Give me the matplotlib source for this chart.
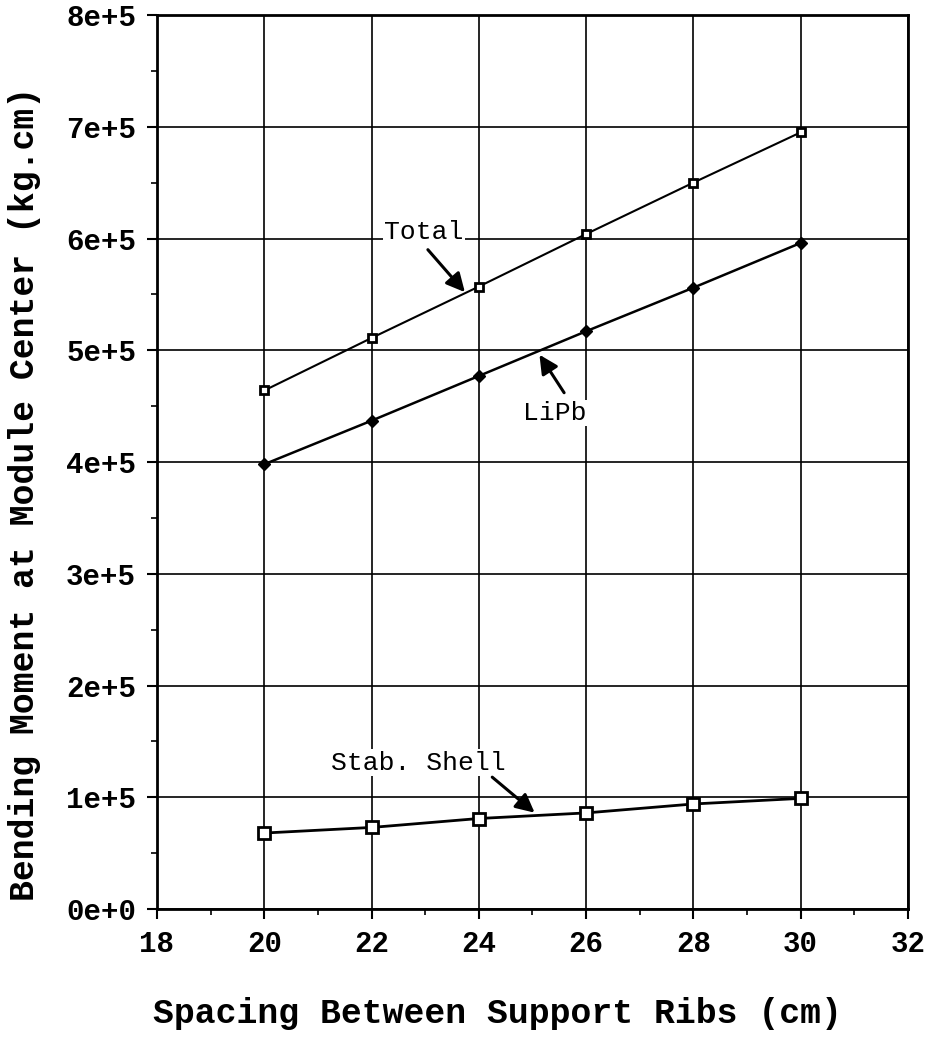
import matplotlib
matplotlib.use("Agg")
import matplotlib.pyplot as plt
from matplotlib.ticker import MultipleLocator

spacing = [20, 22, 24, 26, 28, 30]
total = [4.64e5, 5.11e5, 5.57e5, 6.04e5, 6.50e5, 6.95e5]
lipb = [3.98e5, 4.37e5, 4.77e5, 5.17e5, 5.56e5, 5.96e5]
stab_shell = [0.68e5, 0.73e5, 0.81e5, 0.86e5, 0.94e5, 0.99e5]

x_ticks = [18, 20, 22, 24, 26, 28, 30, 32]
y_ticks = [0, 1e5, 2e5, 3e5, 4e5, 5e5, 6e5, 7e5, 8e5]
y_tick_labels = ["0e+0", "1e+5", "2e+5", "3e+5", "4e+5", "5e+5", "6e+5", "7e+5", "8e+5"]

FONT = "Liberation Mono"

fig = plt.figure(figsize=(9.3, 10.57), dpi=100)
ax = fig.add_axes([0.1688, 0.14, 0.8075, 0.8458])

ax.plot(spacing, total, color="black", lw=1.5, marker="s", ms=6,
        mfc="white", mec="black", mew=2, zorder=3)
ax.plot(spacing, lipb, color="black", lw=1.8, marker="D", ms=6,
        mfc="black", mec="black", zorder=3)
ax.plot(spacing, stab_shell, color="black", lw=2, marker="s", ms=8,
        mfc="white", mec="black", mew=2, zorder=3)

ax.set_xlim(18, 32)
ax.set_ylim(0, 8e5)
ax.set_xticks(x_ticks)
ax.set_yticks(y_ticks)
ax.set_yticklabels(y_tick_labels)
ax.xaxis.set_minor_locator(MultipleLocator(1))
ax.yaxis.set_minor_locator(MultipleLocator(0.5e5))
ax.grid(True, which="major", color="black", lw=1.2)
ax.set_axisbelow(True)

for s in ax.spines.values():
    s.set_linewidth(2)
ax.tick_params(which="major", direction="out", length=7, width=1.5, pad=8)
ax.tick_params(which="minor", direction="out", length=4, width=1.2)
for lab in ax.get_xticklabels() + ax.get_yticklabels():
    lab.set_fontfamily(FONT)
    lab.set_fontweight("bold")
    lab.set_fontsize(21)

ax.set_xlabel("Spacing Between Support Ribs (cm)", fontfamily=FONT,
              fontweight="bold", fontsize=25)
ax.set_ylabel("Bending Moment at Module Center (kg.cm)", fontfamily=FONT,
              fontweight="bold", fontsize=25)
ax.xaxis.set_label_coords(0.453, -0.098)
ax.yaxis.set_label_coords(-0.155, 0.464)

bbox = dict(facecolor="white", edgecolor="none", pad=1)
arrow = dict(arrowstyle="-|>", lw=2.2, color="black", mutation_scale=28,
             shrinkA=0, shrinkB=0)

ax.text(22.98, 6.06e5, "Total", fontfamily=FONT, fontsize=19,
        ha="center", va="center", bbox=bbox, zorder=4)
ax.annotate("", xy=(23.74, 5.52e5), xytext=(23.05, 5.90e5),
            arrowprops=arrow, zorder=4)

ax.text(25.42, 4.44e5, "LiPb", fontfamily=FONT, fontsize=19,
        ha="center", va="center", bbox=bbox, zorder=4)
ax.annotate("", xy=(25.13, 4.96e5), xytext=(25.59, 4.62e5),
            arrowprops=arrow, zorder=4)

ax.text(22.87, 1.31e5, "Stab. Shell", fontfamily=FONT, fontsize=19,
        ha="center", va="center", bbox=bbox, zorder=4)
ax.annotate("", xy=(25.04, 0.862e5), xytext=(24.25, 1.18e5),
            arrowprops=arrow, zorder=4)

fig.savefig("out.png", dpi=100)
